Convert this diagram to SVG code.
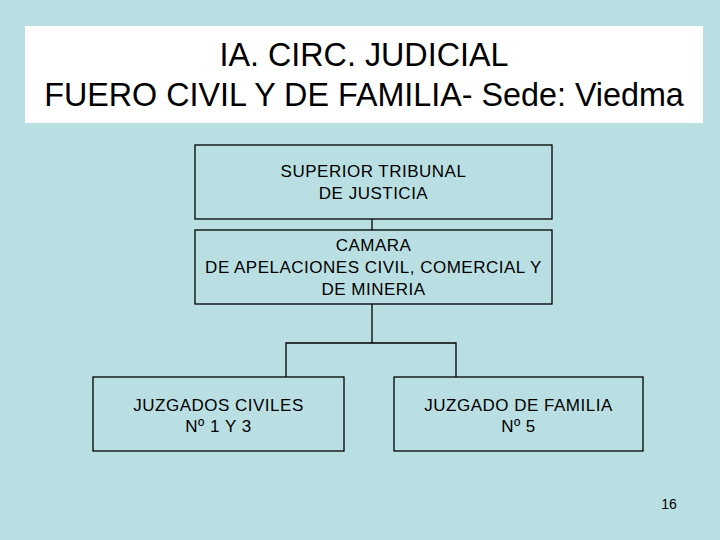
<svg xmlns="http://www.w3.org/2000/svg" width="720" height="540" viewBox="0 0 720 540">
<style>
.box{fill:none;stroke:#000;stroke-width:1.3}
.t{font-family:"Liberation Sans",Arial,sans-serif;font-size:17px;letter-spacing:0.5px;fill:#000;text-anchor:middle}
.title{font-family:"Liberation Sans",Arial,sans-serif;font-size:32.3px;fill:#000;text-anchor:middle}
.conn{fill:none;stroke:#000;stroke-width:1.3}
</style>
<rect x="0" y="0" width="720" height="540" fill="#BADFE3"/>
<g id="title">
<rect x="25" y="26" width="678" height="97" fill="#FFFFFF"/>
<text class="title" x="364" y="66">IA. CIRC. JUDICIAL</text>
<text class="title" x="364" y="106">FUERO CIVIL Y DE FAMILIA- Sede: Viedma</text>
</g>
<g id="connectors">
<line class="conn" x1="372" y1="219" x2="372" y2="230"/>
<polyline class="conn" points="372,304 372,343"/>
<polyline class="conn" points="286,377 286,343 456,343 456,377"/>
</g>
<g id="superior">
<rect class="box" x="195" y="145" width="357" height="74"/>
<text class="t" x="373.5" y="177">SUPERIOR TRIBUNAL</text>
<text class="t" x="373.5" y="199">DE JUSTICIA</text>
</g>
<g id="camara">
<rect class="box" x="195" y="230" width="357" height="74"/>
<text class="t" x="373.5" y="251">CAMARA</text>
<text class="t" x="373.5" y="273">DE APELACIONES CIVIL, COMERCIAL Y</text>
<text class="t" x="373.5" y="295">DE MINERIA</text>
</g>
<g id="civiles">
<rect class="box" x="93" y="377" width="251" height="74"/>
<text class="t" x="218.5" y="411">JUZGADOS CIVILES</text>
<text class="t" x="218.5" y="432">Nº 1 Y 3</text>
</g>
<g id="familia">
<rect class="box" x="394" y="377" width="249" height="74"/>
<text class="t" x="518.5" y="411">JUZGADO DE FAMILIA</text>
<text class="t" x="518.5" y="432">Nº 5</text>
</g>
<g id="page">
<text x="669" y="509" font-family="Liberation Sans, Arial, sans-serif" font-size="14" text-anchor="middle">16</text>
</g>
</svg>
